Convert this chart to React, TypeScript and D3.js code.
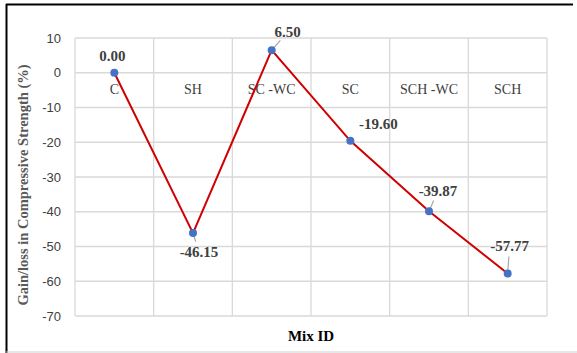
import React from "react";
import * as d3 from "d3";

const categories = ["C", "SH", "SC -WC", "SC", "SCH -WC", "SCH"];
const values = [0.0, -46.15, 6.5, -19.6, -39.87, -57.77];
const yTicks = [10, 0, -10, -20, -30, -40, -50, -60, -70];
// label offsets (dx, dy from point) and whether a leader line is drawn
const labelOffsets: [number, number, boolean][] = [
  [-2, -17, false],
  [6, 19, true],
  [16, -18, true],
  [28, -17, false],
  [9, -21, true],
  [2, -28, true],
];

const W = 577;
const H = 353;

export default function App() {
  const x = d3.scaleBand<string>().domain(categories).range([75, 547]).padding(0);
  const y = d3.scaleLinear().domain([-70, 10]).range([316, 38]);
  const serif = "'Liberation Serif', 'Times New Roman', serif";
  const sans = "'Liberation Sans', Arial, sans-serif";
  const cx = (i: number) => (x(categories[i]) as number) + x.bandwidth() / 2;
  const line = d3
    .line<number>()
    .x((_, i) => cx(i))
    .y((d) => y(d));
  const bounds = categories.map((c) => x(c) as number).concat([547]);
  return (
    <svg
      width={W}
      height={H}
      style={{ position: "absolute", left: 0, top: 0, background: "#fff" }}
    >
      <rect x={0} y={0} width={W} height={H} fill="#fff" />
      {/* border */}
      <line x1={6.5} y1={4} x2={6.5} y2={353} stroke="#000" strokeWidth={2} />
      <line x1={6} y1={4.5} x2={573} y2={4.5} stroke="#000" strokeWidth={2} />
      <line x1={6} y1={352} x2={577} y2={352} stroke="#d0d0d0" strokeWidth={1} />
      {/* grid */}
      {yTicks.map((t) => (
        <line key={"h" + t} x1={75} x2={547} y1={y(t)} y2={y(t)} stroke="#d9d9d9" strokeWidth={1.3} />
      ))}
      {bounds.map((b, i) => (
        <line key={"v" + i} x1={b} x2={b} y1={y(10)} y2={y(-70)} stroke="#d9d9d9" strokeWidth={1.3} />
      ))}
      {/* y tick labels */}
      {yTicks.map((t) => (
        <text
          key={"t" + t}
          x={61}
          y={y(t)}
          dy="0.35em"
          textAnchor="end"
          fontFamily={sans}
          fontSize={13}
          fill="#404040"
        >
          {t}
        </text>
      ))}
      {/* category labels */}
      {categories.map((c, i) => (
        <text
          key={"c" + c}
          x={cx(i)}
          y={94}
          textAnchor="middle"
          fontFamily={serif}
          fontSize={14}
          fill="#404040"
        >
          {c}
        </text>
      ))}
      {/* leader lines */}
      {values.map((v, i) => {
        const [dx, dy, lead] = labelOffsets[i];
        if (!lead) return null;
        const px = cx(i);
        const py = y(v);
        const len = Math.hypot(dx, dy);
        const ux = dx / len;
        const uy = dy / len;
        const end = Math.max(len - 11, 6);
        return (
          <line
            key={"l" + i}
            x1={px + ux * 3}
            y1={py + uy * 3}
            x2={px + ux * end}
            y2={py + uy * end}
            stroke="#a6a6a6"
            strokeWidth={1.2}
          />
        );
      })}
      {/* line */}
      <path d={line(values) as string} fill="none" stroke="#d00000" strokeWidth={2} />
      {values.map((v, i) => (
        <circle key={"p" + i} cx={cx(i)} cy={y(v)} r={4} fill="#4472c4" />
      ))}
      {/* data labels */}
      {values.map((v, i) => {
        const [dx, dy] = labelOffsets[i];
        return (
          <text
            key={"d" + i}
            x={cx(i) + dx}
            y={y(v) + dy}
            dy="0.35em"
            textAnchor="middle"
            fontFamily={serif}
            fontWeight="bold"
            fontSize={15}
            fill="#404040"
          >
            {v.toFixed(2)}
          </text>
        );
      })}
      {/* axis titles */}
      <text
        transform={`translate(28,${(y(10) + y(-70)) / 2 + 8}) rotate(-90)`}
        textAnchor="middle"
        fontFamily={serif}
        fontWeight="bold"
        fontSize={14.5}
        fill="#595959"
      >
        Gain/loss in Compressive Strength (%)
      </text>
      <text x={311} y={341} textAnchor="middle" fontFamily={serif} fontWeight="bold" fontSize={15} fill="#000">
        Mix ID
      </text>
    </svg>
  );
}
